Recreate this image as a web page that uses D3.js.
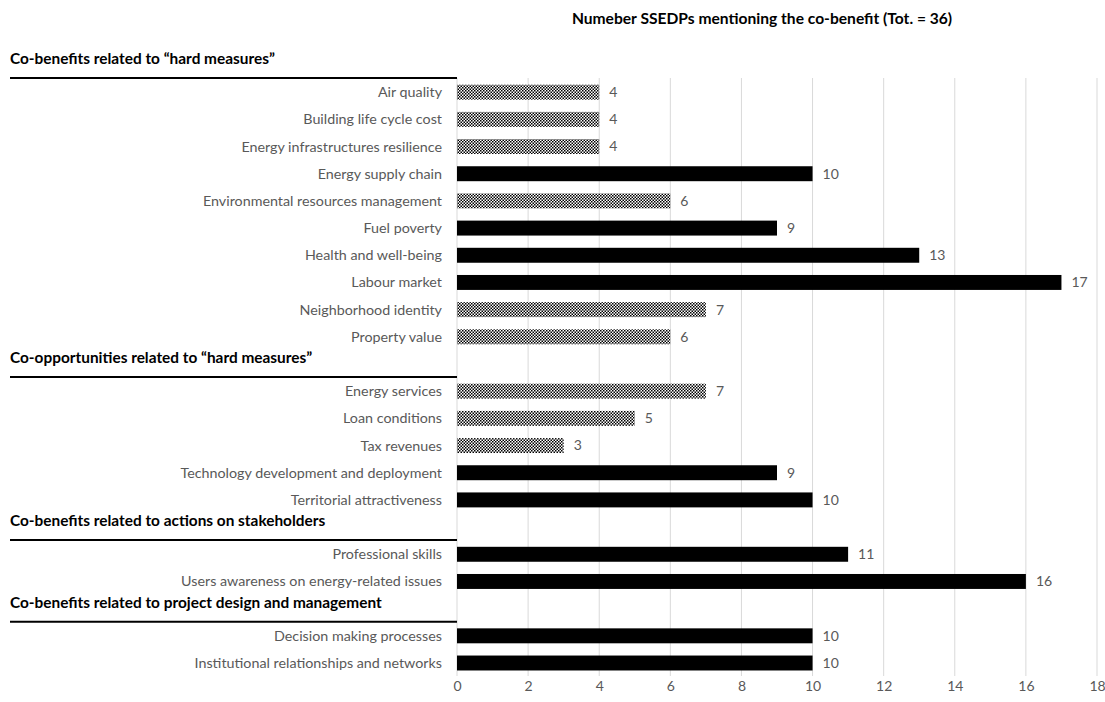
<!DOCTYPE html>
<html>
<head>
<meta charset="utf-8">
<script src="https://cdn.jsdelivr.net/npm/d3@7"></script>
<style>
  body { margin: 0; background: #fff; }
  text { font-family: Lato, "Open Sans", sans-serif; }
</style>
</head>
<body>
<div id="chart"></div>
<script>
// rows top to bottom; section headers take a row of their own
var sections = [
  "Co-benefits related to \u201chard measures\u201d",
  "Co-opportunities related to \u201chard measures\u201d",
  "Co-benefits related to actions on stakeholders",
  "Co-benefits related to project design and management"
];
var categories = [
  "Air quality", "Building life cycle cost", "Energy infrastructures resilience",
  "Energy supply chain", "Environmental resources management", "Fuel poverty",
  "Health and well-being", "Labour market", "Neighborhood identity", "Property value",
  "Energy services", "Loan conditions", "Tax revenues",
  "Technology development and deployment", "Territorial attractiveness",
  "Professional skills", "Users awareness on energy-related issues",
  "Decision making processes", "Institutional relationships and networks"
];
var sectionOf = [0,0,0,0,0,0,0,0,0,0, 1,1,1,1,1, 2,2, 3,3];
var values = [4, 4, 4, 10, 6, 9, 13, 17, 7, 6, 7, 5, 3, 9, 10, 11, 16, 10, 10];
var hatched = [1,1,1,0,1,0,0,0,1,1, 1,1,1,0,0, 0,0, 0,0];
var xTicks = [0, 2, 4, 6, 8, 10, 12, 14, 16, 18];
var title = "Numeber SSEDPs mentioning the co-benefit (Tot. = 36)";

var width = 1105, height = 702;
var svg = d3.select("#chart").append("svg")
    .attr("width", width)
    .attr("height", height);

var defs = svg.append("defs");
var pat = defs.append("pattern")
    .attr("id", "checks")
    .attr("width", 3).attr("height", 3)
    .attr("patternUnits", "userSpaceOnUse");
pat.append("rect").attr("width", 3).attr("height", 3).attr("fill", "#fff");
pat.append("rect").attr("width", 1.5).attr("height", 1.5).attr("fill", "#000");
pat.append("rect").attr("x", 1.5).attr("y", 1.5).attr("width", 1.5).attr("height", 1.5).attr("fill", "#000");

// build row list with header rows
var rows = [];
categories.forEach(function(c, i) {
  if (i === 0 || sectionOf[i] !== sectionOf[i - 1]) {
    rows.push({ key: "h" + sectionOf[i], header: true, text: sections[sectionOf[i]] });
  }
  rows.push({ key: c, header: false, text: c, value: values[i], hatched: hatched[i] });
});

var x = d3.scaleLinear().domain([0, 18]).range([457, 1097]);
var y = d3.scaleBand()
    .domain(rows.map(function(d) { return d.key; }))
    .range([51.4, 676.6])
    .paddingInner(0.45)
    .paddingOuter(0.225);

var gridTop = 78, gridBottom = 676;

// grid lines
svg.append("g").selectAll("line")
  .data(xTicks)
  .enter().append("line")
    .attr("x1", function(d) { return x(d); })
    .attr("x2", function(d) { return x(d); })
    .attr("y1", gridTop)
    .attr("y2", gridBottom)
    .attr("stroke", "#d9d9d9")
    .attr("stroke-width", 1);

// x axis
var xAxis = svg.append("g")
    .attr("transform", "translate(0," + gridBottom + ")")
    .call(d3.axisBottom(x).tickValues(xTicks).tickSize(0).tickPadding(5));
xAxis.select(".domain").remove();
xAxis.selectAll("text")
    .attr("fill", "#595959")
    .style("font-size", "14px")
    .style("font-family", "Lato, sans-serif");

var bars = rows.filter(function(d) { return !d.header; });
var heads = rows.filter(function(d) { return d.header; });

svg.append("g").selectAll("rect")
  .data(bars)
  .enter().append("rect")
    .attr("x", x(0))
    .attr("y", function(d) { return y(d.key); })
    .attr("width", function(d) { return x(d.value) - x(0); })
    .attr("height", y.bandwidth())
    .attr("fill", function(d) { return d.hatched ? "url(#checks)" : "#000"; });

// value labels
svg.append("g").selectAll("text")
  .data(bars)
  .enter().append("text")
    .attr("x", function(d) { return x(d.value) + 10; })
    .attr("y", function(d) { return y(d.key) + y.bandwidth() / 2; })
    .attr("dy", "0.35em")
    .attr("fill", "#595959")
    .style("font-size", "14px")
    .text(function(d) { return d.value; });

// category labels
svg.append("g").selectAll("text")
  .data(bars)
  .enter().append("text")
    .attr("x", 442)
    .attr("y", function(d) { return y(d.key) + y.bandwidth() / 2; })
    .attr("dy", "0.35em")
    .attr("text-anchor", "end")
    .attr("fill", "#595959")
    .style("font-size", "14.3px")
    .text(function(d) { return d.text; });

// section headers with underline
var hg = svg.append("g").selectAll("g")
  .data(heads)
  .enter().append("g");
hg.append("text")
    .attr("x", 10)
    .attr("y", function(d) { return y(d.key) + y.bandwidth() / 2 - 6; })
    .attr("dy", "0.35em")
    .attr("fill", "#000")
    .style("font-size", "15.4px")
    .style("font-weight", "bold")
    .text(function(d) { return d.text; });
hg.append("line")
    .attr("x1", 10)
    .attr("x2", x(0))
    .attr("y1", function(d) { return y(d.key) + y.bandwidth() / 2 + 13; })
    .attr("y2", function(d) { return y(d.key) + y.bandwidth() / 2 + 13; })
    .attr("stroke", "#000")
    .attr("stroke-width", 2);

// title
svg.append("text")
    .attr("x", 762)
    .attr("y", 19)
    .attr("dy", "0.35em")
    .attr("text-anchor", "middle")
    .attr("fill", "#000")
    .style("font-size", "15.6px")
    .style("font-weight", "bold")
    .text(title);
</script>
</body>
</html>
